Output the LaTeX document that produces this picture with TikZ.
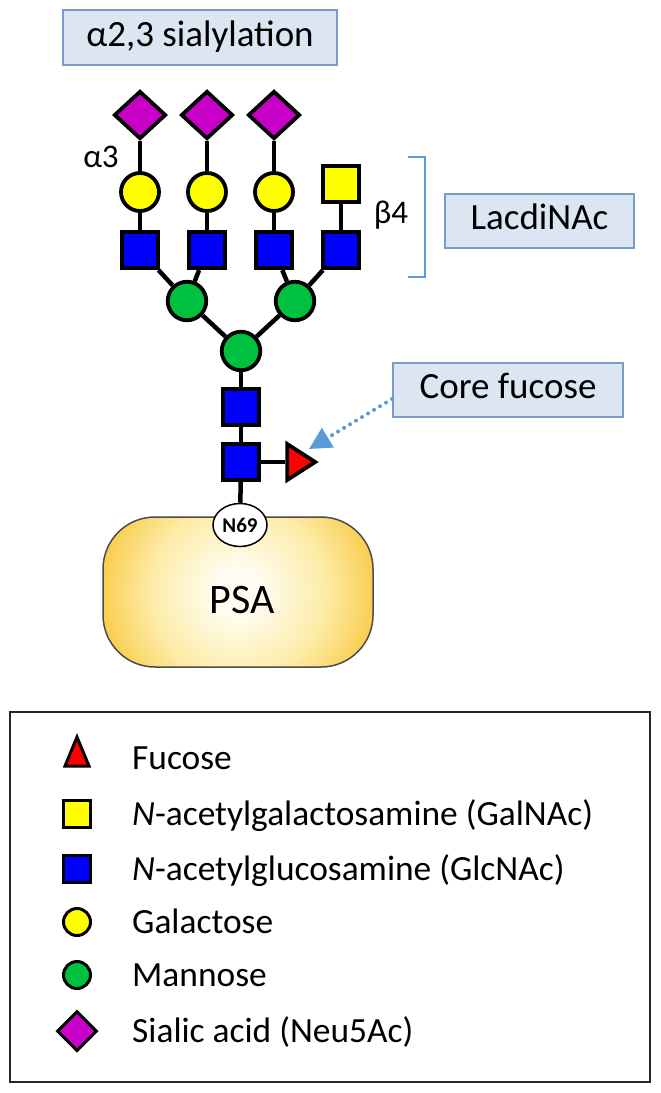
\documentclass[tikz,border=0pt]{standalone}
\usepackage{fontspec}
\setmainfont{Carlito}
\usetikzlibrary{shapes.geometric,arrows.meta}
\definecolor{siac}{RGB}{200,0,200}
\definecolor{galc}{RGB}{255,255,0}
\definecolor{glcc}{RGB}{0,0,255}
\definecolor{manc}{RGB}{0,192,64}
\definecolor{fucc}{RGB}{255,0,0}
\definecolor{boxfill}{RGB}{220,230,242}
\definecolor{boxline}{RGB}{120,155,200}
\definecolor{accent}{RGB}{91,155,213}
\definecolor{psain}{RGB}{255,253,242}
\definecolor{psamid}{RGB}{253,236,168}
\definecolor{psaout}{RGB}{247,191,38}
\pgfdeclareradialshading{psashade}{\pgfpoint{0bp}{0bp}}{color(0bp)=(psain); color(4bp)=(psain); color(16bp)=(psamid); color(30bp)=(psaout); color(75bp)=(psaout)}
\tikzset{
  mono/.style={draw=black, line width=3.8pt, inner sep=0pt},
  siashape/.style={mono, diamond, fill=siac, minimum width=52pt, minimum height=48pt},
  galshape/.style={mono, circle, fill=galc, minimum size=38pt},
  glcshape/.style={mono, rectangle, fill=glcc, minimum size=36.5pt},
  galnacshape/.style={mono, rectangle, fill=galc, minimum size=36.5pt},
  manshape/.style={mono, circle, fill=manc, minimum size=38.5pt},
  link/.style={draw=black, line width=4.5pt},
  infobox/.style={draw=boxline, fill=boxfill, line width=2pt, inner sep=0pt, font=\fontsize{37}{44}\selectfont, text height=25pt, text depth=8pt},
  lsym/.style={draw=black, line width=3pt, inner sep=0pt},
  ltext/.style={anchor=base west, inner sep=0pt, font=\fontsize{35.4}{40}\selectfont},
  linklabel/.style={inner sep=0pt, font=\fontsize{33}{40}\selectfont}
}
\begin{document}
\begin{tikzpicture}[x=1pt,y=-1pt]
\useasboundingbox (0,0) rectangle (661,1093);

% info boxes
\node[infobox, minimum width=274pt, minimum height=55pt] (sial) at (200,37.5) {α2,3 sialylation};
\node[infobox, minimum width=189pt, minimum height=54pt] (lacdi) at (539.5,221) {LacdiNAc};
\node[infobox, minimum width=230pt, minimum height=54pt] (cfbox) at (508,390) {Core fucose};

% PSA protein (circular radial gradient clipped to the rounded body)
\node[draw=black!70, line width=1.5pt, rounded corners=52pt, minimum width=270pt, minimum height=150pt,
  path picture={\shade[shading=psashade] ([shift={(-135pt,-135pt)}]path picture bounding box.center) rectangle ([shift={(135pt,135pt)}]path picture bounding box.center);}] (psa) at (238,592) {};
\node[inner sep=0pt, font=\fontsize{42}{48}\selectfont] (psatext) at (242,600) {PSA};

% glycan residues
\node[siashape] (s1) at (140,115) {};
\node[siashape] (s2) at (207,115) {};
\node[siashape] (s3) at (274,115) {};
\node[galshape] (ga1) at (140,192) {};
\node[galshape] (ga2) at (207,192) {};
\node[galshape] (ga3) at (274,192) {};
\node[galnacshape] (gn) at (341,184) {};
\node[glcshape] (n1) at (140,250) {};
\node[glcshape] (n2) at (207,250) {};
\node[glcshape] (n3) at (274,250) {};
\node[glcshape] (n4) at (341,250) {};
\node[manshape] (m1) at (187,301) {};
\node[manshape] (m2) at (295,301) {};
\node[manshape] (m3) at (241,351) {};
\node[glcshape] (c1) at (241,407) {};
\node[glcshape] (c2) at (241,462) {};
\node[mono, fill=fucc, isosceles triangle, isosceles triangle stretches, minimum width=36pt, minimum height=28pt] (fuc) at (297,462) {};
\node[draw=black, line width=1.5pt, fill=white, ellipse, inner sep=0pt, minimum width=54pt, minimum height=43pt, font=\bfseries\fontsize{21}{24}\selectfont] (n69) at (240,525) {N69};

% linkages
\draw[link] (s1) -- (ga1);
\draw[link] (s2) -- (ga2);
\draw[link] (s3) -- (ga3);
\draw[link] (ga1) -- (n1);
\draw[link] (ga2) -- (n2);
\draw[link] (ga3) -- (n3);
\draw[link] (gn) -- (n4);
\draw[link] (n1) -- (m1);
\draw[link] (n2) -- (m1);
\draw[link] (n3) -- (m2);
\draw[link] (n4) -- (m2);
\draw[link] (m1) -- (m3);
\draw[link] (m2) -- (m3);
\draw[link] (m3) -- (c1);
\draw[link] (c1) -- (c2);
\draw[link] (c2) -- (fuc);
\draw[link] (c2) -- (n69);

% linkage labels
\node[linklabel] (a3) at (101,157) {α3};
\node[linklabel] (b4) at (391,215) {β4};

% bracket
\coordinate (brt) at (408,157);
\coordinate (brb) at (408,277);
\draw[accent, line width=2.5pt] (brt) -- ++(17,0) -- ++(0,120) -- (brb);

% core fucose arrow
\coordinate (ftip) at (309,449);
\draw[accent, line width=4pt, line cap=round, dash pattern=on 0pt off 7pt, -{Triangle[length=22pt,width=22pt]}] ([yshift=-9pt]cfbox.west) -- (ftip);

% legend
\node[draw=black!85, line width=2.5pt, minimum width=640pt, minimum height=370pt, inner sep=0pt] (legend) at (330,897) {};
\node[lsym, fill=fucc, isosceles triangle, isosceles triangle stretches, shape border rotate=90, minimum width=24pt, minimum height=29pt] (lfuc) at (77,758) {};
\node[lsym, fill=galc, minimum size=27pt] (lgn) at (77,814) {};
\node[lsym, fill=glcc, minimum size=27pt] (lglc) at (77,869) {};
\node[lsym, fill=galc, circle, minimum size=27pt] (lgal) at (77,922) {};
\node[lsym, fill=manc, circle, minimum size=27pt] (lman) at (77,975) {};
\node[lsym, fill=siac, diamond, minimum width=40pt, minimum height=40pt] (lsia) at (77,1031) {};
\node[ltext] (tfuc) at (132,769) {Fucose};
\node[ltext] (tgn) at (132,825) {\textit{N}-acetylgalactosamine (GalNAc)};
\node[ltext] (tglc) at (132,880) {\textit{N}-acetylglucosamine (GlcNAc)};
\node[ltext] (tgal) at (132,933) {Galactose};
\node[ltext] (tman) at (132,986) {Mannose};
\node[ltext] (tsia) at (132,1042) {Sialic acid (Neu5Ac)};
\end{tikzpicture}
\end{document}
